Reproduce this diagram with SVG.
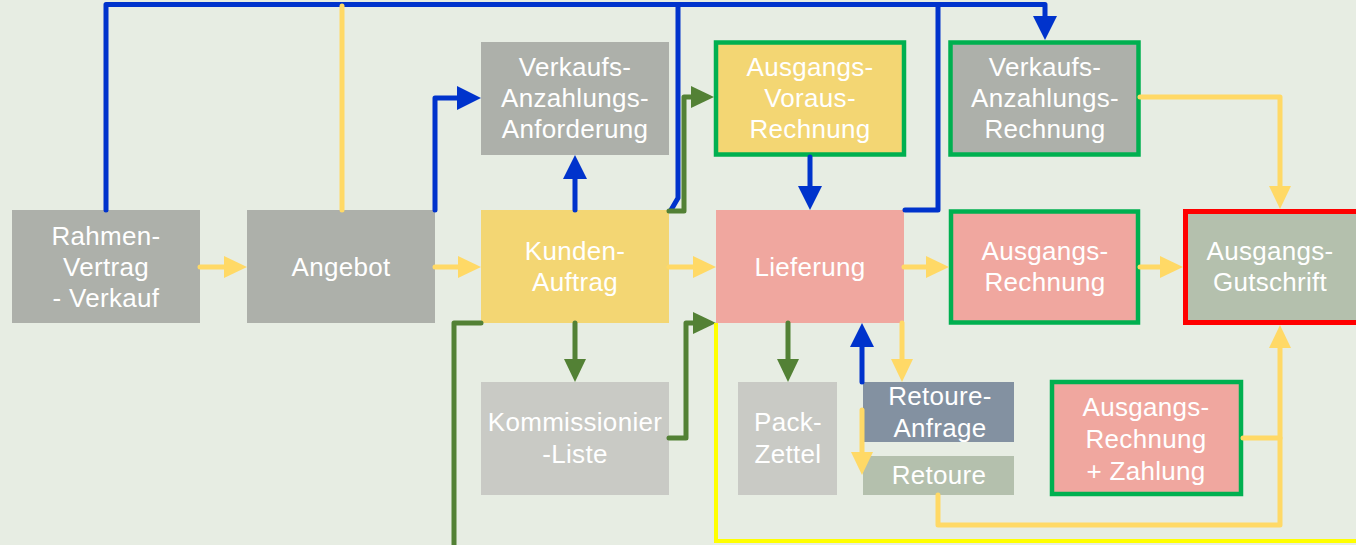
<svg xmlns="http://www.w3.org/2000/svg" width="1356" height="545" viewBox="0 0 1356 545">
<defs>
<style>
.t{font-family:"Liberation Sans",Arial,sans-serif;font-size:26px;letter-spacing:0.3px;fill:#FFFFFF;text-anchor:middle}
.c{fill:none;stroke-width:5;stroke-linecap:round;stroke-linejoin:round}
.b{stroke:#0033CC}
.y{stroke:#FFD966}
.g{stroke:#538135}
.gb{stroke:#00B050;stroke-width:4.5}
</style>
<marker id="ab" markerUnits="userSpaceOnUse" markerWidth="24" markerHeight="24" refX="14" refY="12" orient="auto" viewBox="0 0 24 24"><path d="M0,0 L24,12 L0,24 z" fill="#0033CC"/></marker>
<marker id="ay" markerUnits="userSpaceOnUse" markerWidth="24" markerHeight="24" refX="14" refY="12" orient="auto" viewBox="0 0 24 24"><path d="M1,1 L24,12 L1,23 z" fill="#FFD966"/></marker>
<marker id="ag" markerUnits="userSpaceOnUse" markerWidth="24" markerHeight="24" refX="14" refY="12" orient="auto" viewBox="0 0 24 24"><path d="M1,1 L24,12 L1,23 z" fill="#538135"/></marker>
</defs>
<rect width="1356" height="545" fill="#E7EDE3"/>

<g id="rahmen"><rect x="12" y="210" width="188" height="113" fill="#ADB0AA"/><text class="t" x="106" y="245">Rahmen-</text><text class="t" x="106" y="276">Vertrag</text><text class="t" x="106" y="307">- Verkauf</text></g>
<g id="angebot"><rect x="247" y="210" width="188" height="113" fill="#ADB0AA"/><text class="t" x="341" y="276">Angebot</text></g>
<g id="kundenauftrag"><rect x="481" y="210" width="188" height="113" fill="#F3D673"/><text class="t" x="575" y="260">Kunden-</text><text class="t" x="575" y="291">Auftrag</text></g>
<g id="lieferung"><rect x="716" y="210" width="188" height="113" fill="#F0A79F"/><text class="t" x="810" y="276">Lieferung</text></g>
<g id="ausgangsrechnung"><rect x="951" y="211.5" width="187" height="111" fill="#F0A79F" class="gb"/><text class="t" x="1045" y="260">Ausgangs-</text><text class="t" x="1045" y="291">Rechnung</text></g>
<g id="gutschrift"><rect x="1185.5" y="211.5" width="175" height="111" fill="#B4C0AD" stroke="#FF0000" stroke-width="5"/><text class="t" x="1270" y="260">Ausgangs-</text><text class="t" x="1270" y="291">Gutschrift</text></g>
<g id="anzahlungsanforderung"><rect x="481" y="42" width="188" height="113" fill="#ADB0AA"/><text class="t" x="575" y="76">Verkaufs-</text><text class="t" x="575" y="107">Anzahlungs-</text><text class="t" x="575" y="138">Anforderung</text></g>
<g id="vorausrechnung"><rect x="716" y="42.5" width="188" height="112" fill="#F3D673" class="gb"/><text class="t" x="810" y="76">Ausgangs-</text><text class="t" x="810" y="107">Voraus-</text><text class="t" x="810" y="138">Rechnung</text></g>
<g id="anzahlungsrechnung"><rect x="950.5" y="42.5" width="188" height="112" fill="#ADB0AA" class="gb"/><text class="t" x="1045" y="76">Verkaufs-</text><text class="t" x="1045" y="107">Anzahlungs-</text><text class="t" x="1045" y="138">Rechnung</text></g>
<g id="kommissionierliste"><rect x="481" y="382" width="188" height="113" fill="#C9CAC5"/><text class="t" x="575" y="431">Kommissionier</text><text class="t" x="575" y="463">-Liste</text></g>
<g id="packzettel"><rect x="738" y="382" width="99" height="113" fill="#C9CAC5"/><text class="t" x="788" y="431">Pack-</text><text class="t" x="788" y="463">Zettel</text></g>
<g id="retoureanfrage"><rect x="863" y="382" width="151" height="60" fill="#8391A1"/><text class="t" x="940" y="405">Retoure-</text><text class="t" x="940" y="437">Anfrage</text></g>
<g id="retoure"><rect x="863" y="456" width="151" height="39" fill="#B4C0AD"/><text class="t" x="939" y="484">Retoure</text></g>
<g id="rechnungzahlung"><rect x="1052" y="382" width="189" height="112" fill="#F0A79F" class="gb"/><text class="t" x="1146" y="416">Ausgangs-</text><text class="t" x="1146" y="448">Rechnung</text><text class="t" x="1146" y="480">+ Zahlung</text></g>

<g id="connectors">
<path class="c b" d="M106,210 V4.5 H1045 V30" marker-end="url(#ab)"/>
<path class="c b" d="M678,4.5 V198 L671,210"/>
<path class="c b" d="M938,4.5 V210 H905"/>
<path class="c y" d="M342,210 V6"/>
<path class="c b" d="M435,210 V98 H471" marker-end="url(#ab)"/>
<path class="c b" d="M575,210 V165" marker-end="url(#ab)"/>
<path class="c g" d="M669,211 H684 V97 H704" marker-end="url(#ag)"/>
<path class="c b" d="M810,157 V200" marker-end="url(#ab)"/>
<path class="c y" d="M1140,97 H1280 V199" marker-end="url(#ay)"/>
<path class="c y" d="M200,267 H237" marker-end="url(#ay)"/>
<path class="c y" d="M435,267 H471" marker-end="url(#ay)"/>
<path class="c y" d="M669,267 H706" marker-end="url(#ay)"/>
<path class="c y" d="M904,267 H939" marker-end="url(#ay)"/>
<path class="c y" d="M1140,267 H1173" marker-end="url(#ay)"/>
<path class="c g" d="M575,323 V372" marker-end="url(#ag)"/>
<path class="c g" d="M481,323 H454 V550"/>
<path class="c g" d="M669,438 H686 V323 H706" marker-end="url(#ag)"/>
<path fill="none" stroke="#FFFF00" stroke-width="4" d="M716,323 V541 H1360"/>
<path class="c g" d="M788,323 V372" marker-end="url(#ag)"/>
<path class="c b" d="M862,382 V333" marker-end="url(#ab)"/>
<path class="c y" d="M902,323 V372" marker-end="url(#ay)"/>
<path class="c y" d="M862,410 V465" marker-end="url(#ay)"/>
<path class="c y" d="M938,495 V525 H1280 V335" marker-end="url(#ay)"/>
<path class="c y" d="M1243,438 H1280"/>
</g>
</svg>
